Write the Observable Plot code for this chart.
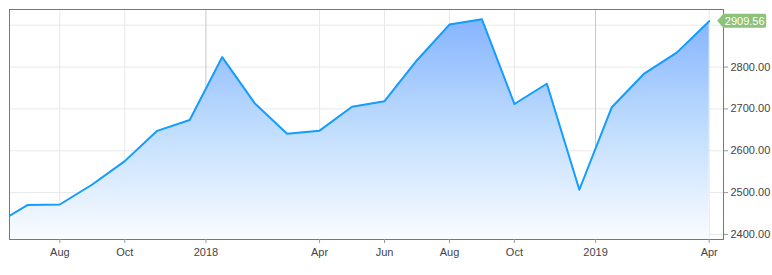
<!DOCTYPE html>
<html>
<head>
<meta charset="utf-8">
<script src="https://cdn.jsdelivr.net/npm/d3@7"></script>
<script src="https://cdn.jsdelivr.net/npm/@observablehq/plot@0.6"></script>
<style>
  body { margin: 0; background: #fff; }
  #chart svg { display: block; }
</style>
</head>
<body>
<div id="chart"></div>
<script>
// Monthly closing values of the index, June 2017 – April 2019
const months = [
  "2017-06", "2017-07", "2017-08", "2017-09", "2017-10", "2017-11", "2017-12",
  "2018-01", "2018-02", "2018-03", "2018-04", "2018-05", "2018-06", "2018-07",
  "2018-08", "2018-09", "2018-10", "2018-11", "2018-12",
  "2019-01", "2019-02", "2019-03", "2019-04"
];
const closes = [
  2423.41, 2470.30, 2471.65, 2519.36, 2575.26, 2647.58, 2673.61,
  2823.81, 2713.83, 2640.87, 2648.05, 2705.27, 2718.37, 2816.29,
  2901.52, 2913.98, 2711.74, 2760.17, 2506.85,
  2704.10, 2784.49, 2834.40, 2909.56
];

// x ticks, in month slots (0 = first month); year ticks sit between Dec and Jan
const tickPositions = [2, 4, 6.5, 10, 12, 14, 16, 18.5, 22];
const tickLabels = ["Aug", "Oct", "2018", "Apr", "Jun", "Aug", "Oct", "2019", "Apr"];
const yearTicks = [6.5, 18.5];
const yGrid = [2400, 2500, 2600, 2700, 2800, 2900];
// the top grid value is covered by the last-value badge, so it gets no label
const yLabelled = [2400, 2500, 2600, 2700, 2800];

const xDomain = [0.45, 22.44];
const yDomain = [2388, 2937.5];

const data = months.map((month, i) => ({ i, month, close: closes[i] }));
const last = data[data.length - 1];
const labelAt = new Map(tickPositions.map((p, k) => [p, tickLabels[k]]));

const plot = Plot.plot({
  width: 772,
  height: 275,
  marginLeft: 9,
  marginRight: 49,
  marginTop: 9,
  marginBottom: 36,
  style: {
    fontFamily: "'Liberation Sans', Arial, sans-serif",
    fontSize: "11px",
    color: "#444",
    background: "#fff"
  },
  x: { type: "linear", domain: xDomain, label: null },
  y: { domain: yDomain, label: null },
  marks: [
    Plot.gridY(yGrid, { stroke: "#e8e8e8", strokeOpacity: 1 }),
    Plot.gridX(tickPositions.filter((p) => !yearTicks.includes(p)), { stroke: "#e8e8e8", strokeOpacity: 1 }),
    Plot.gridX(yearTicks, { stroke: "#c6c6c6", strokeOpacity: 1 }),
    Plot.areaY(data, {
      x: "i",
      y1: yDomain[0],
      y2: "close",
      fill: "url(#area-fade)",
      clip: true
    }),
    Plot.lineY(data, {
      x: "i",
      y: "close",
      stroke: "#149cff",
      strokeWidth: 2,
      clip: true
    }),
    Plot.frame({ stroke: "#777" }),
    Plot.axisX(tickPositions, {
      anchor: "bottom",
      tickSize: 4,
      tickPadding: 5,
      stroke: "#999",
      fill: "#444",
      tickFormat: (d) => labelAt.get(d)
    }),
    Plot.axisY(yLabelled, {
      anchor: "right",
      tickSize: 4,
      tickPadding: 3,
      stroke: "#999",
      fill: "#444",
      tickFormat: d3.format(".2f")
    })
  ]
});

const svg = d3.select(plot);

// vertical fade under the line
const grad = svg.append("defs").append("linearGradient")
  .attr("id", "area-fade")
  .attr("x1", 0).attr("y1", 0).attr("x2", 0).attr("y2", 1);
grad.append("stop").attr("offset", "0%").attr("stop-color", "#86b4ff");
grad.append("stop").attr("offset", "50%").attr("stop-color", "#c0ddfd");
grad.append("stop").attr("offset", "100%").attr("stop-color", "#fafcff");

// last-value badge pointing at the final point
const sx = plot.scale("x");
const sy = plot.scale("y");
const px = sx.apply(last.i);
const py = sy.apply(last.close);
const tipX = px + 8.5;
const boxL = tipX + 6;
const boxR = tipX + 49;
const half = 7;
const r = 2;
const badge = svg.append("g");
badge.append("path")
  .attr("fill", "#8ec27a")
  .attr("d", `M${tipX},${py} L${boxL},${py - half} H${boxR - r} Q${boxR},${py - half} ${boxR},${py - half + r}
    V${py + half - r} Q${boxR},${py + half} ${boxR - r},${py + half} H${boxL} Z`);
badge.append("text")
  .attr("x", (boxL + boxR) / 2)
  .attr("y", py)
  .attr("dy", "0.35em")
  .attr("text-anchor", "middle")
  .attr("fill", "#fff")
  .attr("font-size", 11)
  .text(d3.format(".2f")(last.close));

document.getElementById("chart").appendChild(plot);
</script>
</body>
</html>
